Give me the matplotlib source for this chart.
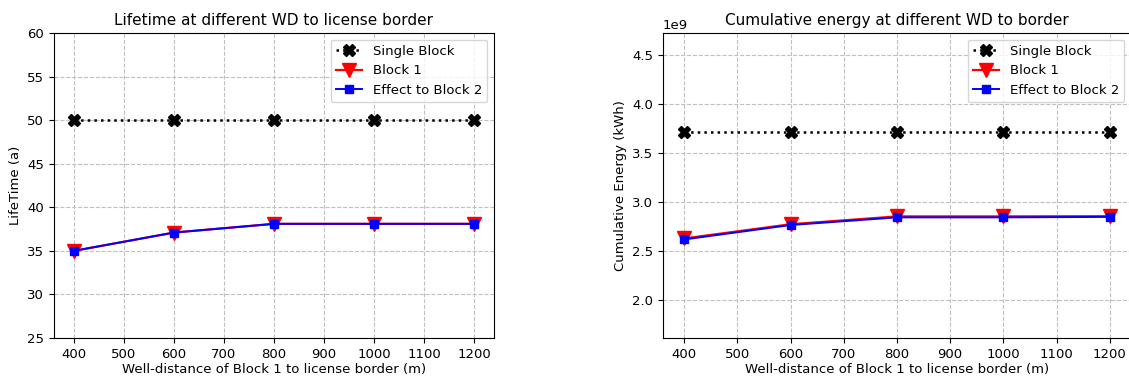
import numpy as np
import matplotlib
matplotlib.use("Agg")
import matplotlib.pyplot as plt

# well distance of block 1 to the license border (m)
wd = [400, 600, 800, 1000, 1200]

# lifetime (years)
life_single = [50, 50, 50, 50, 50]
life_block1 = [35.0, 37.1, 38.1, 38.1, 38.1]
life_block2 = [35.0, 37.1, 38.1, 38.1, 38.1]

# cumulative energy (kWh)
energy_single = [3.707e9, 3.707e9, 3.707e9, 3.707e9, 3.707e9]
energy_block1 = [2.625e9, 2.77e9, 2.85e9, 2.85e9, 2.852e9]
energy_block2 = [2.615e9, 2.762e9, 2.84e9, 2.84e9, 2.845e9]

W, H = 1129, 385
fig = plt.figure(figsize=(W / 100, H / 100), dpi=100)
ax1 = fig.add_axes([54 / W, 47 / H, 440 / W, 305 / H])
ax2 = fig.add_axes([663 / W, 47 / H, 468 / W, 305 / H])

fs = 9.5


def draw(ax, single, b1, b2):
    ax.plot(wd, single, "k:", marker="X", markersize=8, linewidth=1.8, label="Single Block")
    ax.plot(wd, b1, "r-", marker="v", markersize=10, linewidth=1.6, label="Block 1")
    ax.plot(wd, b2, "b-", marker="s", markersize=6, linewidth=1.4, label="Effect to Block 2")
    ax.grid(True, linestyle="--", color="#c0c0c0", linewidth=0.8)
    ax.set_xticks(np.arange(400, 1201, 100))
    ax.set_xlim(360, 1240)
    ax.tick_params(labelsize=fs)
    ax.set_xlabel("Well-distance of Block 1 to license border (m)", fontsize=fs, labelpad=2)
    ax.legend(loc="upper right", fontsize=fs, numpoints=1, handlelength=2.0)


draw(ax1, life_single, life_block1, life_block2)
ax1.set_ylim(25, 60)
ax1.set_ylabel("LifeTime (a)", fontsize=fs)
ax1.set_title("Lifetime at different WD to license border", fontsize=11)

draw(ax2, energy_single, energy_block1, energy_block2)
ax2.set_ylim(1.61e9, 4.72e9)
ax2.set_yticks(np.arange(2.0e9, 4.51e9, 0.5e9))
ax2.set_ylabel("Cumulative Energy (kWh)", fontsize=fs)
ax2.set_title("Cumulative energy at different WD to border", fontsize=11)
ax2.yaxis.get_offset_text().set_fontsize(fs)

fig.savefig("out.png", dpi=100)
